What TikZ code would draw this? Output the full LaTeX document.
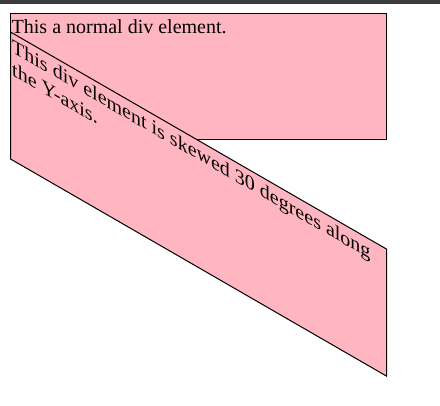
\documentclass[tikz,border=0pt]{standalone}
\usepackage{fontspec}
\setmainfont{Liberation Serif}
\definecolor{divpink}{HTML}{FFB6C1}
\definecolor{barcol}{HTML}{3C3C3C}
\tikzset{
  divbox/.style={fill=divpink, draw=black, line width=1pt},
  divtext/.style={anchor=base west, inner sep=0pt, font=\fontsize{20}{23}\selectfont, text=black}
}
\begin{document}
\begin{tikzpicture}[x=1pt,y=1pt]
\useasboundingbox (0,0) rectangle (440,-406);
\fill[white] (0,0) rectangle (440,-406);
\fill[barcol] (0,0) rectangle (440,-4);
% normal div
\draw[divbox] (10.5,-14) rectangle (386.5,-140);
\node[divtext] (t1) at (11.5,-33.5) {This a normal div element.};
% skewed div
\begin{scope}[cm={1,-0.57735,0,1,(10.5pt,-32pt)}]
  \draw[divbox] (0,0) rectangle (376,-127);
  \node[divtext, transform shape] (t2) at (1.5,-19.5) {This div element is skewed 30 degrees along};
  \node[divtext, transform shape] (t3) at (1.5,-42.5) {the Y-axis.};
\end{scope}
\end{tikzpicture}
\end{document}
